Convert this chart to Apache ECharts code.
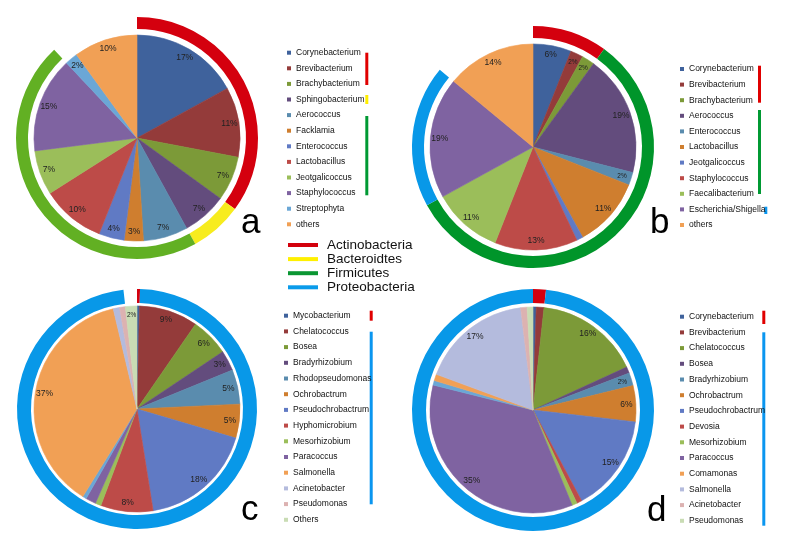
<!DOCTYPE html>
<html>
<head>
<meta charset="utf-8">
<script src="https://cdn.jsdelivr.net/npm/echarts@6/dist/echarts.min.js"></script>
<style>
html,body{margin:0;padding:0;background:#fff;}
#chart{width:800px;height:560px;}
</style>
</head>
<body>
<div id="chart"></div>
<script>
// ---------- data ----------
const palette = ['#3F629C','#943B3A','#7C9A38','#634C7D','#5A8CAE','#CF7E2F','#607AC4','#BD4B48','#9BBE5A','#7F63A1','#6BA7D6','#F1A055','#B4BBDD','#DCB2B1','#C9DCB4'];

const phylumNames = ['Actinobacteria','Bacteroidtes','Firmicutes','Proteobacteria'];

const namesA = ['Corynebacterium','Brevibacterium','Brachybacterium','Sphingobacterium','Aerococcus','Facklamia','Enterococcus','Lactobacillus','Jeotgalicoccus','Staphylococcus','Streptophyta','others'];
const valuesA = [17,11,7,7,7,3,4,10,7,15,2,10];
const colorIdxA = [0,1,2,3,4,5,6,7,8,9,10,11];
const phylaA = ['Actinobacteria','Actinobacteria','Actinobacteria','Bacteroidtes','Firmicutes','Firmicutes','Firmicutes','Firmicutes','Firmicutes','Firmicutes','',''];

const namesB = ['Corynebacterium','Brevibacterium','Brachybacterium','Aerococcus','Enterococcus','Lactobacillus','Jeotgalicoccus','Staphylococcus','Faecalibacterium','Escherichia/Shigella','others'];
const valuesB = [6,2,2,19,2,11,1,13,11,19,14];
const colorIdxB = [0,1,2,3,4,5,6,7,8,9,11];
const phylaB = ['Actinobacteria','Actinobacteria','Actinobacteria','Firmicutes','Firmicutes','Firmicutes','Firmicutes','Firmicutes','Firmicutes','Proteobacteria',''];

const namesC = ['Mycobacterium','Chelatococcus','Bosea','Bradyrhizobium','Rhodopseudomonas','Ochrobactrum','Pseudochrobactrum','Hyphomicrobium','Mesorhizobium','Paracoccus','','Salmonella','Acinetobacter','Pseudomonas','Others'];
const valuesC = [0.4,9.2,6.0,3.2,5.4,5.3,17.9,8.2,0.9,1.6,0.6,37.4,1.0,0.9,1.8];
const colorIdxC = [0,1,2,3,4,5,6,7,8,9,10,11,12,13,14];
const phylaC = ['Actinobacteria','Proteobacteria','Proteobacteria','Proteobacteria','Proteobacteria','Proteobacteria','Proteobacteria','Proteobacteria','Proteobacteria','Proteobacteria','Proteobacteria','Proteobacteria','Proteobacteria','Proteobacteria',''];

const namesD = ['Corynebacterium','Brevibacterium','Chelatococcus','Bosea','Bradyrhizobium','Ochrobactrum','Pseudochrobactrum','Devosia','Mesorhizobium','Paracoccus','','Comamonas','Salmonella','Acinetobacter','Pseudomonas'];
const valuesD = [0.5,1.2,16.3,1.0,2.0,5.6,15.2,0.8,0.8,34.8,0.7,1.0,17.3,1.0,0.9];
const colorIdxD = [0,1,2,3,4,5,6,7,8,9,10,11,12,13,14];
const phylaD = ['Actinobacteria','Actinobacteria','Proteobacteria','Proteobacteria','Proteobacteria','Proteobacteria','Proteobacteria','Proteobacteria','Proteobacteria','Proteobacteria','Proteobacteria','Proteobacteria','Proteobacteria','Proteobacteria','Proteobacteria'];

// ---------- styles ----------
const ringColors = {Actinobacteria:'#D4000E', Bacteroidtes:'#F7EC1E', Firmicutes:'#00952A', Proteobacteria:'#0898E8'};
const legendLineColors = {Actinobacteria:'#D3000C', Bacteroidtes:'#FFF000', Firmicutes:'#0A9632', Proteobacteria:'#0A9BEA'};
const FONT = 'Liberation Sans';

const panels = [
  {key:'a', names:namesA, values:valuesA, cidx:colorIdxA, phyla:phylaA, center:[137,138], r:103, ring:[109,121], ringOverride:{Firmicutes:'#62B023'}, smallLabels:false,
   legend:{left:287, top:47.2, gap:4.6}},
  {key:'b', names:namesB, values:valuesB, cidx:colorIdxB, phyla:phylaB, center:[533,147], r:103, ring:[109,121], ringOverride:{}, smallLabels:true,
   legend:{left:680, top:63.5, gap:4.6}},
  {key:'c', names:namesC, values:valuesC, cidx:colorIdxC, phyla:phylaC, center:[137,409], r:103, ring:[106,120], ringOverride:{}, smallLabels:true,
   legend:{left:284, top:310.2, gap:4.7}},
  {key:'d', names:namesD, values:valuesD, cidx:colorIdxD, phyla:phylaD, center:[533,410], r:103, ring:[107,121], ringOverride:{}, smallLabels:true,
   legend:{left:680, top:311.2, gap:4.7}}
];

function sliceData(p){
  return p.values.map((v,i)=>{ const c=palette[p.cidx[i]]; return {name:p.names[i], value:v, itemStyle:{color:c, borderColor:c, borderWidth:0.6}}; });
}
function ringData(p){
  const out=[];
  p.values.forEach((v,i)=>{
    const ph=p.phyla[i];
    const last=out[out.length-1];
    if(last && last.name===ph){ last.value+=v; }
    else out.push({name:ph, value:v, itemStyle:{color: ph ? (p.ringOverride[ph]||ringColors[ph]) : 'rgba(0,0,0,0)'}});
  });
  return out;
}

const series=[], legends=[];
panels.forEach(p=>{
  series.push({
    type:'pie', name:p.key+'-main', center:p.center, radius:[0,p.r], startAngle:90, clockwise:true,
    data:sliceData(p), label:{show:false}, labelLine:{show:false}, silent:true,
    emphasis:{disabled:true}, animation:false
  });
  series.push({
    type:'pie', name:p.key+'-labels', center:p.center, radius:[p.r*0.76,p.r], startAngle:90, clockwise:true,
    data:p.values.map((v,i)=>({name:p.names[i], value:v, itemStyle:{color:'rgba(0,0,0,0)', borderWidth:0}})),
    silent:true, emphasis:{disabled:true}, animation:false, labelLine:{show:false},
    itemStyle:{borderWidth:0, color:'rgba(0,0,0,0)'},
    label:{show:true, position:'inside', fontFamily:FONT, fontSize:8.5, color:'#222',
      formatter:(q)=>{ const v=q.value; if(v<1.75) return ''; const t=Math.round(v)+'%'; return (p.smallLabels && v<2.5) ? '{s|'+t+'}' : t; },
      rich:{s:{fontSize:6.5, fontFamily:FONT, color:'#222'}}}
  });
  series.push({
    type:'pie', name:p.key+'-ring', center:p.center, radius:p.ring, startAngle:90, clockwise:true,
    data:ringData(p), label:{show:false}, labelLine:{show:false}, silent:true,
    emphasis:{disabled:true}, animation:false, itemStyle:{borderWidth:0}
  });
  legends.push({
    orient:'vertical', left:p.legend.left, top:p.legend.top, itemWidth:4, itemHeight:4, itemGap:p.legend.gap,
    icon:'rect', selectedMode:false, padding:0,
    textStyle:{fontFamily:FONT, fontSize:8.5, color:'#111', lineHeight:11},
    data:p.names.map((n,i)=>({name:n, i})).filter(o=>o.name!=='').map(o=>{ const c=palette[p.cidx[o.i]]; return {name:o.name, itemStyle:{color:c, borderColor:c, borderWidth:0}}; })
  });
});
// phylum legend
legends.push({
  orient:'vertical', left:288, top:238, itemWidth:30, itemHeight:4, itemGap:0.1, icon:'rect', selectedMode:false, padding:0,
  textStyle:{fontFamily:FONT, fontSize:13.5, color:'#111', lineHeight:14, padding:[0,0,0,4]},
  data:phylumNames.map(n=>({name:n, itemStyle:{color:legendLineColors[n], borderColor:legendLineColors[n], borderWidth:0}}))
});

// legend group bars (decoration)
function bar(x,y1,y2,color){ return {type:'rect', shape:{x:x, y:y1, width:3, height:y2-y1}, style:{fill:color}, silent:true}; }
const barRed='#E00000', barYellow='#FFEE00', barGreen='#009933', barBlue='#0A96F0';
const graphics=[
  bar(365.3,52.7,85,barRed), bar(365.3,95,104,barYellow), bar(365.3,116,195.3,barGreen),
  bar(758,65.7,102.7,barRed), bar(758,110,194,barGreen), bar(764.3,206.7,214,barBlue),
  bar(369.7,310.7,320.7,barRed), bar(369.7,331.7,504.3,barBlue),
  bar(762.3,310.7,324,barRed), bar(762.3,332.3,525.7,barBlue)
];
const letters=[['a',241,223.5],['b',650,223.5],['c',241,510.5],['d',647,511.5]];
letters.forEach(l=>graphics.push({type:'text', x:l[1], y:l[2], silent:true,
  style:{text:l[0], font:'35px "Liberation Sans"', fill:'#000', verticalAlign:'middle', align:'left'}}));

const chart = echarts.init(document.getElementById('chart'), null, {renderer:'canvas'});
chart.setOption({
  backgroundColor:'#fff',
  animation:false,
  legend:legends,
  series:series,
  graphic:graphics
});
</script>
</body>
</html>
